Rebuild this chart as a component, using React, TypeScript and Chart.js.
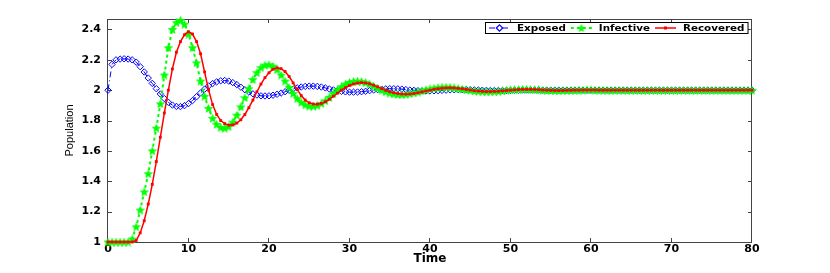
import React, { useEffect, useRef } from 'react';
import { Chart, registerables } from 'chart.js';

Chart.register(...registerables);

// ---------- data ----------
const TIME_STEP = 0.5; // sampling interval of the time grid (t = 0 .. 80)
const X_TICKS = [0, 10, 20, 30, 40, 50, 60, 70, 80];
const Y_TICKS = [1, 1.2, 1.4, 1.6, 1.8, 2, 2.2, 2.4];
const X_MIN = 0;
const X_MAX = 80;
const Y_MIN = 1;
const Y_MAX = 2.469;
const SERIES_LABELS = ['Exposed', 'Infective', 'Recovered'];

const exposed = [
  2.0, 2.17, 2.2, 2.205, 2.207, 2.205, 2.2, 2.185, 2.155, 2.12,
  2.08, 2.045, 2.01, 1.975, 1.945, 1.92, 1.902, 1.893, 1.892, 1.898,
  1.912, 1.932, 1.957, 1.982, 2.007, 2.028, 2.044, 2.055, 2.062, 2.064,
  2.06, 2.05, 2.037, 2.02, 2.003, 1.988, 1.976, 1.968, 1.963, 1.962,
  1.963, 1.967, 1.973, 1.981, 1.99, 1.999, 2.008, 2.015, 2.021, 2.025,
  2.027, 2.027, 2.025, 2.021, 2.015, 2.008, 2.002, 1.996, 1.992, 1.989,
  1.987, 1.987, 1.988, 1.99, 1.993, 1.997, 2.001, 2.004, 2.007, 2.009,
  2.01, 2.01, 2.009, 2.007, 2.004, 2.001, 1.999, 1.997, 1.995, 1.995,
  1.995, 1.996, 1.997, 1.999, 2.0, 2.002, 2.003, 2.004, 2.004, 2.004,
  2.003, 2.002, 2.001, 2.0, 1.999, 1.998, 1.998, 1.998, 1.998, 1.999,
  1.999, 2.0, 2.0, 2.001, 2.001, 2.001, 2.001, 2.001, 2.0, 2.0,
  2, 2, 2, 2, 2, 2, 2, 2, 2, 2,
  2, 2, 2, 2, 2, 2, 2, 2, 2, 2,
  2, 2, 2, 2, 2, 2, 2, 2, 2, 2,
  2, 2, 2, 2, 2, 2, 2, 2, 2, 2,
  2, 2, 2, 2, 2, 2, 2, 2, 2, 2,
  2,
];

const infective = [
  1.0, 1.0, 1.0, 1.0, 1.0, 1.0, 1.02, 1.1, 1.21, 1.33,
  1.45, 1.6, 1.75, 1.91, 2.1, 2.28, 2.4, 2.445, 2.46, 2.435,
  2.37, 2.28, 2.18, 2.06, 1.96, 1.88, 1.815, 1.775, 1.755, 1.75,
  1.76, 1.79, 1.835, 1.89, 1.95, 2.01, 2.07, 2.115, 2.148, 2.165,
  2.168, 2.158, 2.135, 2.1, 2.06, 2.018, 1.978, 1.945, 1.92, 1.903,
  1.895, 1.895, 1.9, 1.912, 1.93, 1.953, 1.978, 2.002, 2.023, 2.04,
  2.052, 2.058, 2.06, 2.057, 2.05, 2.04, 2.027, 2.013, 2.0, 1.989,
  1.981, 1.975, 1.972, 1.971, 1.973, 1.977, 1.982, 1.988, 1.995, 2.002,
  2.008, 2.013, 2.017, 2.019, 2.02, 2.019, 2.016, 2.012, 2.007, 2.003,
  1.999, 1.995, 1.993, 1.991, 1.99, 1.99, 1.991, 1.993, 1.996, 1.999,
  2.002, 2.004, 2.005, 2.006, 2.006, 2.005, 2.004, 2.002, 2.0, 1.999,
  1.998, 1.997, 1.997, 1.998, 1.998, 1.999, 2.0, 2.001, 2.001, 2.002,
  2.002, 2.001, 2.001, 2.0, 2.0, 2.0, 2.0, 2.0, 2.0, 2.0,
  2, 2, 2, 2, 2, 2, 2, 2, 2, 2,
  2, 2, 2, 2, 2, 2, 2, 2, 2, 2,
  2, 2, 2, 2, 2, 2, 2, 2, 2, 2,
  2,
];

const recovered = [
  1.0, 1.0, 1.0, 1.0, 1.0, 1.0, 1.0, 1.01, 1.06, 1.14,
  1.25, 1.38, 1.53, 1.69, 1.85, 2.0, 2.14, 2.25, 2.32, 2.365,
  2.385, 2.37, 2.32, 2.24, 2.12, 2.0, 1.905, 1.84, 1.8, 1.78,
  1.77, 1.771, 1.783, 1.805, 1.84, 1.885, 1.935, 1.99, 2.04, 2.083,
  2.115, 2.138, 2.147, 2.142, 2.123, 2.09, 2.048, 2.005, 1.965, 1.935,
  1.917, 1.909, 1.908, 1.913, 1.924, 1.94, 1.96, 1.98, 2.0, 2.017,
  2.031, 2.041, 2.047, 2.05, 2.048, 2.042, 2.033, 2.022, 2.01, 1.999,
  1.99, 1.983, 1.978, 1.975, 1.974, 1.975, 1.978, 1.983, 1.989, 1.995,
  2.0, 2.006, 2.01, 2.013, 2.015, 2.016, 2.015, 2.012, 2.009, 2.005,
  2.001, 1.997, 1.994, 1.992, 1.991, 1.991, 1.992, 1.993, 1.996, 1.998,
  2.0, 2.002, 2.004, 2.005, 2.005, 2.005, 2.004, 2.003, 2.001, 2.0,
  1.999, 1.998, 1.998, 1.998, 1.999, 1.999, 2.0, 2.0, 2.001, 2.001,
  2.001, 2.001, 2.0, 2.0, 2.0, 2.0, 2.0, 2.0, 2.0, 2.0,
  2, 2, 2, 2, 2, 2, 2, 2, 2, 2,
  2, 2, 2, 2, 2, 2, 2, 2, 2, 2,
  2, 2, 2, 2, 2, 2, 2, 2, 2, 2,
  2,
];

// ---------- styles ----------
const BLUE = '#0000ff';
const GREEN = '#00ff00';
const RED = '#ff0000';
const AXIS_COLOR = '#444444';
const TICK_FONT = { family: '"DejaVu Sans", sans-serif', size: 11, weight: 'bold' as const };

const toPoints = (vals: number[]) => vals.map((v, i) => ({ x: i * TIME_STEP, y: v }));

function makeStar(size: number, color: string): HTMLCanvasElement {
  const c = document.createElement('canvas');
  c.width = size;
  c.height = size;
  const g = c.getContext('2d')!;
  const cx = size / 2;
  const cy = size / 2 + 0.4;
  const R = size / 2 - 0.3;
  const r = R * 0.42;
  g.beginPath();
  for (let i = 0; i < 10; i++) {
    const rad = i % 2 === 0 ? R : r;
    const a = -Math.PI / 2 + (i * Math.PI) / 5;
    const px = cx + rad * Math.cos(a);
    const py = cy + rad * Math.sin(a);
    if (i === 0) g.moveTo(px, py);
    else g.lineTo(px, py);
  }
  g.closePath();
  g.fillStyle = color;
  g.fill();
  g.strokeStyle = color;
  g.lineWidth = 0.8;
  g.stroke();
  return c;
}

const framePlugin = {
  id: 'matlabFrame',
  beforeDatasetsDraw(chart: any) {
    const { ctx, chartArea } = chart;
    const { left, right, top, bottom } = chartArea;
    const xs = chart.scales.x;
    const ys = chart.scales.y;
    ctx.save();
    ctx.strokeStyle = AXIS_COLOR;
    ctx.lineWidth = 1;
    ctx.strokeRect(Math.round(left) - 0.5, Math.round(top) + 0.5, Math.round(right - left), Math.round(bottom - top));
    const tl = 4;
    ctx.beginPath();
    xs.ticks.forEach((t: any) => {
      const px = Math.round(xs.getPixelForValue(t.value)) - 0.5;
      ctx.moveTo(px, bottom);
      ctx.lineTo(px, bottom - tl);
      ctx.moveTo(px, top);
      ctx.lineTo(px, top + tl);
    });
    ys.ticks.forEach((t: any) => {
      const py = Math.round(ys.getPixelForValue(t.value)) + 0.5;
      ctx.moveTo(left, py);
      ctx.lineTo(left + tl, py);
      ctx.moveTo(right, py);
      ctx.lineTo(right - tl, py);
    });
    ctx.stroke();
    ctx.restore();
  },
};

const legendPlugin = {
  id: 'matlabLegend',
  afterDraw(chart: any) {
    const { ctx, chartArea } = chart;
    const star: HTMLCanvasElement = chart.$legendStar;
    const sx = 1.15;
    ctx.save();
    ctx.font = 'bold 9px "DejaVu Sans", sans-serif';
    const labels: string[] = chart.data.datasets.map((d: any) => d.label);
    const widths = labels.map((l) => ctx.measureText(l).width * sx);
    const sampleLen = 21;
    const gapST = 7;
    const gapTS = 5;
    const padL = 4;
    const padR = 3;
    let total = padL + padR + gapTS * (labels.length - 1);
    widths.forEach((w) => (total += sampleLen + gapST + w));
    const h = 11;
    const right = Math.round(chartArea.right) - 4;
    const top = Math.round(chartArea.top) + 3;
    const left = Math.round(right - total);
    ctx.fillStyle = '#ffffff';
    ctx.fillRect(left, top, total, h);
    ctx.strokeStyle = '#000000';
    ctx.lineWidth = 1;
    ctx.strokeRect(left + 0.5, top + 0.5, total, h);
    const cy = top + h / 2 + 0.5;
    let x = left + padL;
    chart.data.datasets.forEach((d: any, i: number) => {
      ctx.save();
      ctx.strokeStyle = d.borderColor;
      ctx.lineWidth = d.borderWidth;
      ctx.setLineDash(d.borderDash || []);
      ctx.beginPath();
      ctx.moveTo(x, cy);
      ctx.lineTo(x + sampleLen, cy);
      ctx.stroke();
      ctx.setLineDash([]);
      const mx = x + sampleLen / 2;
      if (i === 0) {
        ctx.lineWidth = 1.2;
        ctx.beginPath();
        ctx.moveTo(mx, cy - 3.2);
        ctx.lineTo(mx + 3.2, cy);
        ctx.lineTo(mx, cy + 3.2);
        ctx.lineTo(mx - 3.2, cy);
        ctx.closePath();
        ctx.fillStyle = '#ffffff';
        ctx.fill();
        ctx.stroke();
      } else if (i === 1 && star) {
        ctx.drawImage(star, mx - star.width / 2, cy - star.height / 2);
      } else {
        ctx.fillStyle = d.borderColor;
        ctx.fillRect(mx - 1.5, cy - 1.5, 3, 3);
      }
      ctx.restore();
      x += sampleLen + gapST;
      ctx.save();
      ctx.fillStyle = '#000000';
      ctx.textBaseline = 'middle';
      ctx.textAlign = 'left';
      ctx.translate(x, cy + 0.5);
      ctx.scale(sx, 1);
      ctx.fillText(labels[i], 0, 0);
      ctx.restore();
      x += widths[i] + gapTS;
    });
    ctx.restore();
  },
};

export default function App() {
  const canvasRef = useRef<HTMLCanvasElement | null>(null);

  useEffect(() => {
    const canvas = canvasRef.current;
    if (!canvas) return;
    const star = makeStar(9, GREEN);
    const legendStar = makeStar(8, GREEN);
    const chart = new Chart(canvas, {
      type: 'line',
      data: {
        datasets: [
          {
            label: SERIES_LABELS[0],
            data: toPoints(exposed),
            borderColor: BLUE,
            borderWidth: 1,
            borderDash: [6, 3, 1, 3],
            pointStyle: 'rectRot',
            pointRadius: 3.2,
            pointBorderWidth: 1,
            pointBorderColor: BLUE,
            pointBackgroundColor: 'rgba(0,0,0,0)',
            tension: 0,
            clip: false,
            order: 3,
          },
          {
            label: SERIES_LABELS[1],
            data: toPoints(infective),
            borderColor: GREEN,
            borderWidth: 2,
            borderDash: [3, 3],
            pointStyle: star,
            pointRadius: 4,
            pointBorderColor: GREEN,
            pointBackgroundColor: GREEN,
            tension: 0,
            clip: false,
            order: 2,
          },
          {
            label: SERIES_LABELS[2],
            data: toPoints(recovered),
            borderColor: RED,
            borderWidth: 1.5,
            pointStyle: 'rect',
            pointRadius: 2,
            pointBorderWidth: 0,
            pointBorderColor: RED,
            pointBackgroundColor: RED,
            tension: 0,
            clip: false,
            order: 1,
          },
        ] as any,
      },
      options: {
        animation: false,
        responsive: false,
        maintainAspectRatio: false,
        events: [],
        layout: { padding: { left: 0, right: 78, top: 19, bottom: 0 } },
        plugins: {
          legend: { display: false },
          tooltip: { enabled: false },
        },
        scales: {
          x: {
            type: 'linear',
            min: X_MIN,
            max: X_MAX,
            afterBuildTicks: (s: any) => {
              s.ticks = X_TICKS.map((v) => ({ value: v }));
            },
            afterFit: (s: any) => {
              s.height = 31;
            },
            ticks: {
              padding: 1,
              color: '#000000',
              font: TICK_FONT,
              maxRotation: 0,
              autoSkip: false,
              callback: (v: any) => String(v),
            },
            grid: { display: false, drawTicks: false },
            border: { display: false },
            title: {
              display: true,
              text: 'Time',
              color: '#000000',
              font: { family: '"DejaVu Sans", sans-serif', size: 12, weight: 'bold' },
              padding: { top: 0, bottom: 7 },
            },
          },
          y: {
            type: 'linear',
            min: Y_MIN,
            max: Y_MAX,
            afterBuildTicks: (s: any) => {
              s.ticks = Y_TICKS.map((v) => ({ value: v }));
            },
            afterFit: (s: any) => {
              s.width = 108;
            },
            ticks: {
              padding: 7,
              color: '#000000',
              font: TICK_FONT,
              autoSkip: false,
              callback: (v: any) => String(Number(Number(v).toFixed(2))),
            },
            grid: { display: false, drawTicks: false },
            border: { display: false },
            title: {
              display: true,
              text: 'Population',
              color: '#000000',
              font: { family: '"Liberation Sans", Arial, sans-serif', size: 11 },
              padding: { top: 63, bottom: 0 },
            },
          },
        },
      } as any,
      plugins: [framePlugin, legendPlugin],
    });
    (chart as any).$legendStar = legendStar;
    chart.draw();
    return () => {
      chart.destroy();
    };
  }, []);

  return (
    <div style={{ position: 'fixed', left: 0, top: 0, width: 830, height: 273, background: '#ffffff' }}>
      <canvas ref={canvasRef} width={830} height={273} style={{ display: 'block' }} />
    </div>
  );
}
